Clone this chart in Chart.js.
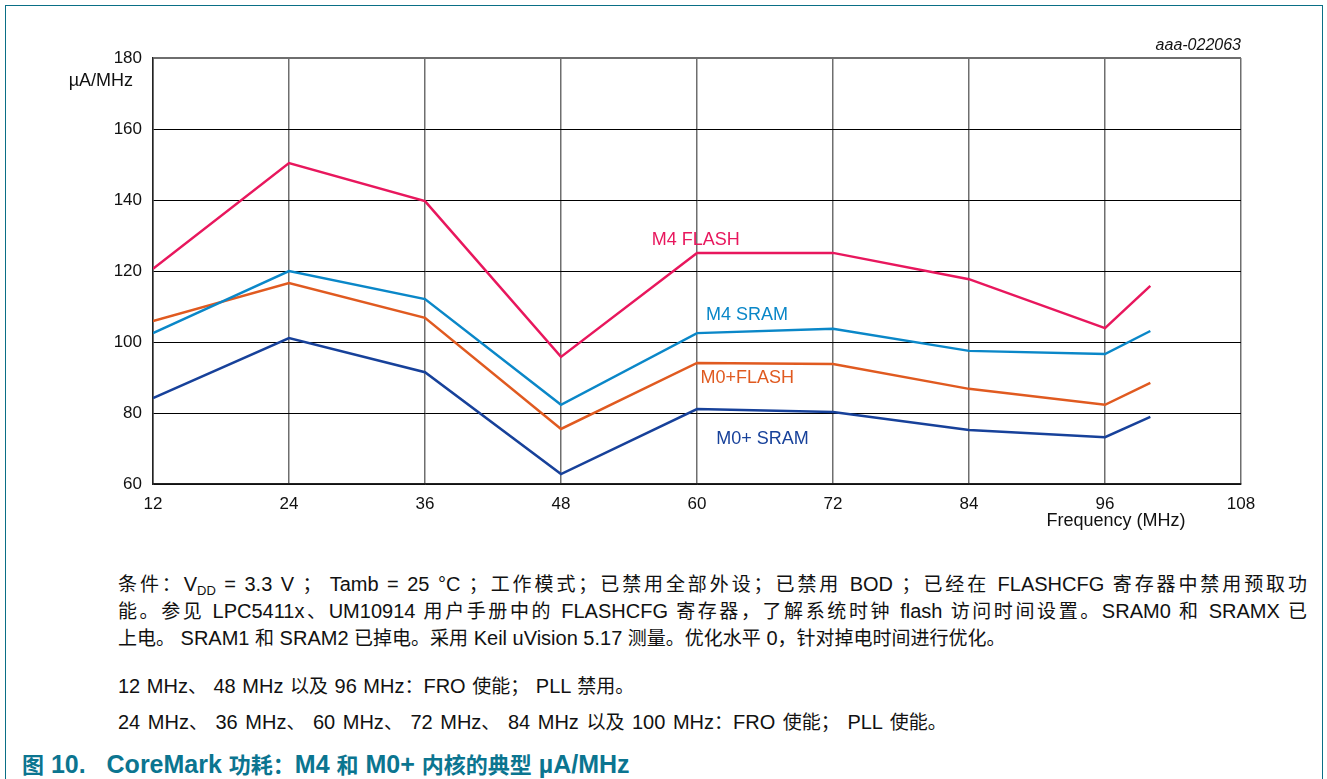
<!DOCTYPE html>
<html>
<head>
<meta charset="utf-8">
<script src="https://cdn.jsdelivr.net/npm/chart.js@4"></script>
<style>
  body { margin: 0; background: #fff; width: 1327px; height: 779px; overflow: hidden; position: relative;
         font-family: "Liberation Sans", "Noto Sans CJK SC", sans-serif; color: #111; }
  #frame { position: absolute; left: 5px; top: 5px; width: 1316px; height: 790px;
           border-top: 1.5px solid #0a6f86; border-left: 1.5px solid #0a6f86; border-right: 1.5px solid #0a6f86; }
  #wrap { position: absolute; left: 0; top: 0; width: 1327px; height: 540px; }
  .note { position: absolute; left: 118px; font-size: 20px; line-height: 27px; white-space: nowrap; }
  .just { width: 1189px; white-space: normal; text-align: justify; text-align-last: justify; }
  .note sub { font-size: 13px; vertical-align: -4px; line-height: 0; }
  .cjk { font-family: "Noto Sans CJK SC", sans-serif; font-size: 19px; }
  #title { position: absolute; left: 22px; top: 748px; font-size: 25px; font-weight: bold; color: #0b7590; white-space: nowrap; line-height: 30px; }
  #title .cjk { font-size: 22px; }
</style>
</head>
<body>
<div id="frame"></div>
<div id="wrap"><canvas id="chart"></canvas></div>
<div class="note just" style="top:569px">条件：V<sub>DD</sub> = 3.3 V ； Tamb = 25 °C ；工作模式；已禁用全部外设；已禁用 BOD ；已经在 FLASHCFG 寄存器中禁用预取功</div>
<div class="note just" style="top:596px">能。参见 LPC5411x、UM10914 用户手册中的 FLASHCFG 寄存器，了解系统时钟 flash 访问时间设置。SRAM0 和 SRAMX 已</div>
<div class="note" style="top:623px">上电。 SRAM1 和 SRAM2 已掉电。采用 Keil uVision 5.17 测量。优化水平 0，针对掉电时间进行优化。</div>
<div class="note" style="top:671px; word-spacing:1px">12 MHz、 48 MHz 以及 96 MHz：FRO 使能； PLL 禁用。</div>
<div class="note" style="top:707px; word-spacing:2px">24 MHz、 36 MHz、 60 MHz、 72 MHz、 84 MHz 以及 100 MHz：FRO 使能； PLL 使能。</div>
<div id="title">图 10.&nbsp;&nbsp; CoreMark 功耗：M4 和 M0+ 内核的典型 µA/MHz</div>
<script>
// values (uA/MHz vs core frequency)
var freqs = [12, 24, 36, 48, 60, 72, 84, 96, 100];
var m4Flash = [120.6, 150.4, 139.7, 95.8, 125.1, 125.1, 117.7, 103.9, 115.8];
var m4Sram = [102.5, 120, 112.1, 82.3, 102.5, 103.7, 97.5, 96.6, 103.1];
var m0Flash = [105.9, 116.6, 106.8, 75.5, 94.1, 93.8, 86.8, 82.3, 88.5];
var m0Sram = [84.2, 101.1, 91.5, 62.8, 81.1, 80.3, 75.2, 73.2, 78.9];
var xTicks = [12, 24, 36, 48, 60, 72, 84, 96, 108];
var yTicks = [60, 80, 100, 120, 140, 160, 180];

// curve labels, placed in data units
var labels = [
  { text: 'M4 FLASH', x: 56, y: 128.7, color: '#e8175d' },
  { text: 'M4 SRAM', x: 60.8, y: 107.6, color: '#0a87c8' },
  { text: 'M0+FLASH', x: 60.3, y: 89.9, color: '#e05a20' },
  { text: 'M0+ SRAM', x: 61.7, y: 72.7, color: '#17419a' }
];

// smaller size for the chinese runs, latin stays arial-like
function wrapCjk(el) {
  var walker = document.createTreeWalker(el, NodeFilter.SHOW_TEXT);
  var nodes = [];
  while (walker.nextNode()) nodes.push(walker.currentNode);
  nodes.forEach(function (n) {
    var parts = n.nodeValue.split(/([\u3000-\u303f\u4e00-\u9fff\uff00-\uffef]+)/);
    if (parts.length < 2) return;
    var frag = document.createDocumentFragment();
    parts.forEach(function (p, i) {
      if (!p) return;
      if (i % 2) {
        var s = document.createElement('span');
        s.className = 'cjk';
        s.textContent = p;
        frag.appendChild(s);
      } else {
        frag.appendChild(document.createTextNode(p));
      }
    });
    n.parentNode.replaceChild(frag, n);
  });
}
document.querySelectorAll('.note, #title').forEach(wrapCjk);

function pts(ys) {
  var out = [];
  for (var i = 0; i < freqs.length; i++) out.push({ x: freqs[i], y: ys[i] });
  return out;
}

function series(label, ys, color) {
  return { label: label, data: pts(ys), borderColor: color, backgroundColor: color,
           borderWidth: 2.5, pointRadius: 0, tension: 0, fill: false };
}

var textPlugin = {
  id: 'texts',
  afterDraw: function (chart) {
    var ctx = chart.ctx, xs = chart.scales.x, ys = chart.scales.y, area = chart.chartArea;
    ctx.save();
    ctx.textBaseline = 'middle';
    ctx.font = '18px "Liberation Sans", Arial, sans-serif';
    labels.forEach(function (l) {
      ctx.fillStyle = l.color;
      ctx.textAlign = 'left';
      ctx.fillText(l.text, xs.getPixelForValue(l.x), ys.getPixelForValue(l.y));
    });
    ctx.fillStyle = '#111';
    ctx.textAlign = 'right';
    ctx.fillText('µA/MHz', area.left - 20, area.top + 23);
    ctx.textAlign = 'center';
    ctx.fillText('Frequency (MHz)', 1116, area.bottom + 37);
    ctx.font = 'italic 16px "Liberation Sans", Arial, sans-serif';
    ctx.textAlign = 'right';
    ctx.fillText('aaa-022063', area.right, area.top - 12);
    ctx.restore();
  }
};

new Chart(document.getElementById('chart'), {
  type: 'line',
  data: {
    datasets: [
      series('M4 FLASH', m4Flash, '#e8175d'),
      series('M4 SRAM', m4Sram, '#0a87c8'),
      series('M0+FLASH', m0Flash, '#e05a20'),
      series('M0+ SRAM', m0Sram, '#17419a')
    ]
  },
  options: {
    responsive: true,
    maintainAspectRatio: false,
    animation: false,
    layout: { padding: { top: 58, right: 86, left: 0, bottom: 0 } },
    plugins: { legend: { display: false }, tooltip: { enabled: false } },
    scales: {
      x: {
        type: 'linear', min: 12, max: 108,
        afterBuildTicks: function (s) { s.ticks = xTicks.map(function (v) { return { value: v }; }); },
        afterFit: function (s) { s.height = 56; },
        grid: { color: '#6e6e6e', lineWidth: 1.5, tickLength: 0 },
        border: { color: '#222', width: 1.5 },
        ticks: { color: '#111', padding: 10, maxRotation: 0, font: { family: 'Liberation Sans', size: 17 } }
      },
      y: {
        min: 60, max: 180,
        afterBuildTicks: function (s) { s.ticks = yTicks.map(function (v) { return { value: v }; }); },
        afterFit: function (s) { s.width = 153; },
        grid: {
          color: function (c) { return c.tick && c.tick.value === 180 ? '#6e6e6e' : '#000'; },
          lineWidth: function (c) { return c.tick && c.tick.value === 180 ? 2 : 1; },
          tickLength: 0
        },
        border: { color: '#222', width: 1.5 },
        ticks: { color: '#111', padding: 11, font: { family: 'Liberation Sans', size: 17 } }
      }
    }
  },
  plugins: [textPlugin]
});
</script>
</body>
</html>
